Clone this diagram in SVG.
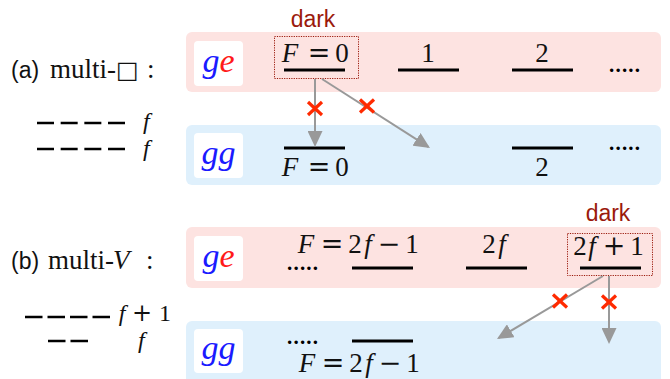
<svg xmlns="http://www.w3.org/2000/svg" width="670" height="379" viewBox="0 0 670 379">
<style>
.pink{fill:#fde3e1}
.blue{fill:#dff0fc}
.wbox{fill:#ffffff}
.lvl{stroke:#000;stroke-width:3}
.m{font-family:"Liberation Serif","Times New Roman",serif;font-size:27px;fill:#111}
.c{text-anchor:middle}
.i{font-style:italic}
.op{font-family:"DejaVu Serif","Liberation Serif",serif;font-style:normal}
.big{font-family:"Liberation Serif","Times New Roman",serif;font-size:34px;font-style:italic}
.dots{font-family:"Liberation Serif",serif;font-size:21px;font-weight:bold;letter-spacing:1.2px;fill:#000}
.lab{font-family:"Liberation Sans",Arial,sans-serif;font-size:23px;fill:#111}
.dark{font-family:"Liberation Sans",Arial,sans-serif;font-size:23px;fill:#9b1a0c}
.dbox{fill:none;stroke:#9b1a0c;stroke-width:1;stroke-dasharray:1.2 1.2}
.dash{stroke:#000;stroke-width:2.5}
.arr{stroke:#999;stroke-width:2;fill:none;marker-end:url(#ah)}
.x{stroke:#ff2a00;stroke-width:3.2;stroke-linecap:butt}
</style>
<defs>
<marker id="ah" markerUnits="userSpaceOnUse" markerWidth="17" markerHeight="15" refX="14" refY="7.5" orient="auto">
<path d="M0,0 L16,7.5 L0,15 z" fill="#999"/>
</marker>
</defs>

<g id="panel-a-ge">
<rect class="pink" x="186" y="32" width="475" height="60" rx="6"/>
<rect class="wbox" x="194" y="41" width="49" height="45" rx="4"/>
<text class="big" x="218.5" y="72" text-anchor="middle"><tspan fill="#1a1aff">g</tspan><tspan fill="#ff1a1a">e</tspan></text>
</g>
<g id="panel-a-gg">
<rect class="blue" x="186" y="125" width="475" height="60" rx="6"/>
<rect class="wbox" x="194" y="133" width="49" height="45" rx="4"/>
<text class="big" x="218.5" y="164" text-anchor="middle" fill="#1a1aff">gg</text>
</g>
<g id="panel-b-ge">
<rect class="pink" x="186" y="227" width="475" height="61" rx="6"/>
<rect class="wbox" x="194" y="236" width="49" height="45" rx="4"/>
<text class="big" x="218.5" y="267" text-anchor="middle"><tspan fill="#1a1aff">g</tspan><tspan fill="#ff1a1a">e</tspan></text>
</g>
<g id="panel-b-gg">
<rect class="blue" x="186" y="321" width="475" height="66" rx="6"/>
<rect class="wbox" x="194" y="329" width="49" height="44" rx="4"/>
<text class="big" x="218.5" y="359" text-anchor="middle" fill="#1a1aff">gg</text>
</g>

<g id="label-a">
<text class="lab" x="11" y="78">(a)</text>
<text class="m" x="50" y="78">multi-</text>
<text x="116" y="78" style="font-family:'DejaVu Sans',sans-serif;font-size:24px;fill:#111">□</text>
<text class="m" x="147" y="78">:</text>
<line class="dash" x1="37" y1="123" x2="125" y2="123" stroke-dasharray="17 6.67"/>
<line class="dash" x1="37" y1="149" x2="125" y2="149" stroke-dasharray="17 6.67"/>
<text class="m i" x="143" y="129" style="font-size:24px">f</text>
<text class="m i" x="143" y="156" style="font-size:24px">f</text>
</g>
<g id="label-b">
<text class="lab" x="11" y="269">(b)</text>
<text class="m" x="48" y="269">multi-</text>
<text class="m i" x="113" y="269">V</text>
<text class="m" x="146" y="269">:</text>
<line class="dash" x1="25" y1="317" x2="110" y2="317" stroke-dasharray="17.5 5"/>
<line class="dash" x1="48" y1="341" x2="88" y2="341" stroke-dasharray="17.5 5"/>
<text class="m c" y="321" style="font-size:24px"><tspan x="122" font-style="italic">f</tspan><tspan x="142" class="op">+</tspan><tspan x="165">1</tspan></text>
<text class="m i" x="138" y="348" style="font-size:24px">f</text>
</g>

<g id="a-ge-F0">
<text class="dark" x="313" y="27" text-anchor="middle">dark</text>
<rect class="dbox" x="274.5" y="36.5" width="84" height="42"/>
<text class="m c" y="62"><tspan x="290" font-style="italic">F</tspan><tspan x="319" class="op">=</tspan><tspan x="342">0</tspan></text>
<line class="lvl" x1="284" y1="70" x2="345" y2="70"/>
</g>
<g id="a-ge-1">
<text class="m" x="428" y="62" text-anchor="middle">1</text>
<line class="lvl" x1="398" y1="70" x2="459" y2="70"/>
</g>
<g id="a-ge-2">
<text class="m" x="542" y="62" text-anchor="middle">2</text>
<line class="lvl" x1="512" y1="70" x2="573" y2="70"/>
</g>
<g id="a-ge-dots"><text class="dots" x="609" y="72">.....</text></g>
<g id="a-gg-F0">
<line class="lvl" x1="284" y1="148" x2="345" y2="148"/>
<text class="m c" y="176"><tspan x="290" font-style="italic">F</tspan><tspan x="319" class="op">=</tspan><tspan x="342">0</tspan></text>
</g>
<g id="a-gg-2">
<line class="lvl" x1="512" y1="148" x2="573" y2="148"/>
<text class="m" x="542" y="176" text-anchor="middle">2</text>
</g>
<g id="a-gg-dots"><text class="dots" x="609" y="150">.....</text></g>

<g id="b-ge-dots"><text class="dots" x="287" y="270">.....</text></g>
<g id="b-ge-2fm1">
<text class="m c" y="253"><tspan x="306" font-style="italic">F</tspan><tspan x="332" class="op">=</tspan><tspan x="355">2</tspan><tspan x="368" font-style="italic">f</tspan><tspan x="389" class="op">−</tspan><tspan x="412">1</tspan></text>
<line class="lvl" x1="352" y1="268" x2="413" y2="268"/>
</g>
<g id="b-ge-2f">
<text class="m c" y="253"><tspan x="489">2</tspan><tspan x="502" font-style="italic">f</tspan></text>
<line class="lvl" x1="466" y1="268" x2="527" y2="268"/>
</g>
<g id="b-ge-2fp1">
<text class="dark" x="608" y="221" text-anchor="middle">dark</text>
<rect class="dbox" x="567.5" y="233.5" width="85" height="42"/>
<text class="m c" y="255"><tspan x="580">2</tspan><tspan x="592" font-style="italic">f</tspan><tspan x="614" class="op">+</tspan><tspan x="637">1</tspan></text>
<line class="lvl" x1="580" y1="268" x2="641" y2="268"/>
</g>
<g id="b-gg-dots"><text class="dots" x="287" y="344">.....</text></g>
<g id="b-gg-2fm1">
<line class="lvl" x1="352" y1="341" x2="413" y2="341"/>
<text class="m c" y="372"><tspan x="307" font-style="italic">F</tspan><tspan x="333" class="op">=</tspan><tspan x="356">2</tspan><tspan x="369" font-style="italic">f</tspan><tspan x="390" class="op">−</tspan><tspan x="413">1</tspan></text>
</g>

<g id="connectors">
<line class="arr" x1="315" y1="79" x2="315" y2="145"/>
<line class="arr" x1="322" y1="79" x2="428.3" y2="146.9"/>
<line class="arr" x1="603" y1="276" x2="498.7" y2="338"/>
<line class="arr" x1="609" y1="276" x2="609" y2="342"/>
<g class="x">
<line x1="308" y1="102" x2="322" y2="115"/><line x1="322" y1="102" x2="308" y2="115"/>
<line x1="360" y1="99.5" x2="374" y2="112.5"/><line x1="374" y1="99.5" x2="360" y2="112.5"/>
<line x1="553" y1="294.5" x2="567" y2="307.5"/><line x1="567" y1="294.5" x2="553" y2="307.5"/>
<line x1="602" y1="295.5" x2="616" y2="308.5"/><line x1="616" y1="295.5" x2="602" y2="308.5"/>
</g>
</g>
</svg>
